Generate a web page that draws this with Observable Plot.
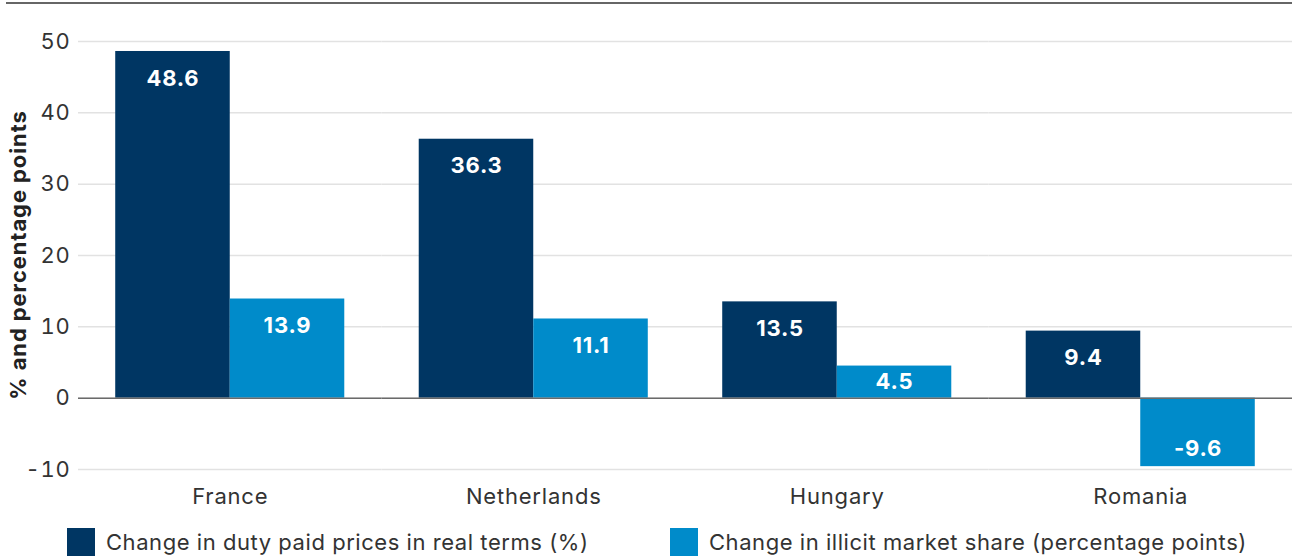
<!DOCTYPE html>
<html>
<head>
<meta charset="utf-8">
<script src="https://cdn.jsdelivr.net/npm/d3@7"></script>
<script src="https://cdn.jsdelivr.net/npm/@observablehq/plot@0.6"></script>
<style>
  html, body { margin: 0; padding: 0; background: #fff; }
  body { width: 1292px; height: 558px; overflow: hidden; font-family: Inter, Lato, sans-serif; }
  #wrap { position: relative; width: 1292px; height: 558px; }
  #topline { position: absolute; left: 6px; right: 0; top: 2px; height: 0; border-top: 2px solid #666; }
  #chart { position: absolute; left: 0; top: 0; }
  #ylabel { position: absolute; left: 18px; top: 255px; transform: translate(-50%, -50%) rotate(-90deg); white-space: nowrap; font-weight: 700; font-size: 22px; letter-spacing: 0.9px; color: #222; }
  .leg { position: absolute; top: 528px; display: flex; align-items: center; font-size: 22px; letter-spacing: 0.55px; color: #333; white-space: nowrap; }
  .sw { width: 28px; height: 28px; margin-right: 11px; }
  g[aria-label="fx-axis tick label"] { letter-spacing: 0.8px; }
  g[aria-label="y-axis tick label"] { letter-spacing: 0.7px; }
  g[aria-label="text"] { letter-spacing: 0.8px; }
</style>
</head>
<body>
<div id="wrap">
  <div id="chart"></div>
  <div id="topline"></div>
  <div id="ylabel">% and percentage points</div>
  <div id="legend"></div>
</div>
<script>
const countries = ["France", "Netherlands", "Hungary", "Romania"];
const seriesNames = ["Change in duty paid prices in real terms (%)", "Change in illicit market share (percentage points)"];
const dutyPrices = [48.6, 36.3, 13.5, 9.4];
const illicitShare = [13.9, 11.1, 4.5, -9.6];
const yTicks = [-10, 0, 10, 20, 30, 40, 50];
const colors = ["#003663", "#008bca"];

const data = [];
countries.forEach((c, i) => {
  data.push({country: c, series: seriesNames[0], value: dutyPrices[i]});
  data.push({country: c, series: seriesNames[1], value: illicitShare[i]});
});
const fmt = d => d.value.toFixed(1);
const big = data.filter(d => Math.abs(d.value) >= 6);
const small = data.filter(d => Math.abs(d.value) < 6);

const chart = Plot.plot({
  width: 1292,
  height: 522,
  marginLeft: 78,
  marginRight: 0,
  marginTop: 41,
  marginBottom: 53,
  style: {fontFamily: "Inter, Lato, sans-serif", color: "#333", background: "transparent"},
  fx: {domain: countries, padding: 0, round: false, label: null},
  x: {domain: seriesNames, paddingInner: 0, paddingOuter: 0.325, round: false, axis: null},
  y: {domain: [-10, 50], ticks: yTicks, label: null},
  color: {domain: seriesNames, range: colors},
  marks: [
    Plot.gridY(yTicks, {stroke: "#e2e2e2", strokeOpacity: 1, strokeWidth: 1.5}),
    Plot.axisY(yTicks, {tickSize: 0, tickPadding: 8, fontSize: 22, fill: "#333", label: null, tickFormat: d => d < 0 ? "-" + Math.abs(d) : String(d)}),
    Plot.axisFx({anchor: "bottom", tickSize: 0, tickPadding: 19, fontSize: 22, fill: "#333", label: null}),
    Plot.barY(data, {fx: "country", x: "series", y: "value", fill: "series"}),
    Plot.ruleY([0], {stroke: "#6a6a6a", strokeWidth: 1.5}),
    Plot.text(big.filter(d => d.value > 0), {fx: "country", x: "series", y: "value", text: fmt, dy: 27, fill: "white", fontSize: 22, fontWeight: 700, lineAnchor: "middle"}),
    Plot.text(big.filter(d => d.value < 0), {fx: "country", x: "series", y: "value", text: fmt, dy: -18, fill: "white", fontSize: 22, fontWeight: 700, lineAnchor: "middle"}),
    Plot.text(small, {fx: "country", x: "series", y: d => d.value / 2, text: fmt, fill: "white", fontSize: 22, fontWeight: 700, lineAnchor: "middle"})
  ]
});
document.getElementById("chart").appendChild(chart);

const legend = document.getElementById("legend");
const legLeft = [67, 670];
seriesNames.forEach((s, i) => {
  const item = document.createElement("div");
  item.className = "leg";
  item.style.left = legLeft[i] + "px";
  const sw = document.createElement("div");
  sw.className = "sw";
  sw.style.background = colors[i];
  const t = document.createElement("span");
  t.textContent = s;
  item.appendChild(sw);
  item.appendChild(t);
  legend.appendChild(item);
});
</script>
</body>
</html>
